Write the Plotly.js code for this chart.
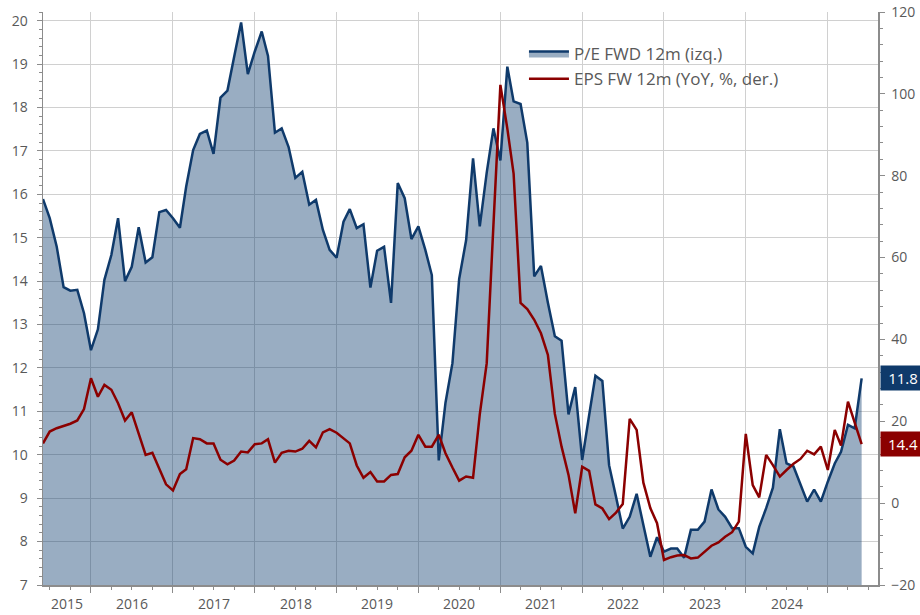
<!DOCTYPE html>
<html>
<head>
<meta charset="utf-8">
<script src="https://cdn.plot.ly/plotly-3.0.1.min.js"></script>
<style>
  html, body { margin: 0; padding: 0; background: #ffffff; }
  #chart { width: 920px; height: 615px; }
</style>
</head>
<body>
<div id="chart"></div>
<script>
// ---- Data (monthly, first observation June 2015) ----
const START_YEAR = 2015;
const START_MONTH = 6;

const PE_FWD = [
  15.89, 15.45, 14.80, 13.86, 13.78, 13.80, 13.26, 12.41, 12.89, 14.03,
  14.60, 15.45, 14.00, 14.33, 15.24, 14.43, 14.55, 15.59, 15.64, 15.45,
  15.23, 16.18, 17.02, 17.39, 17.47, 16.93, 18.23, 18.39, 19.17, 19.96,
  18.77, 19.29, 19.75, 19.19, 17.42, 17.52, 17.09, 16.38, 16.52, 15.76,
  15.87, 15.18, 14.72, 14.54, 15.37, 15.66, 15.22, 15.31, 13.85, 14.70,
  14.79, 13.50, 16.26, 15.91, 14.97, 15.26, 14.72, 14.14, 9.87, 11.20,
  12.11, 14.05, 14.94, 16.83, 15.26, 16.50, 17.52, 16.78, 18.94, 18.14,
  18.08, 17.19, 14.11, 14.35, 13.50, 12.73, 12.63, 10.93, 11.56, 9.88,
  10.91, 11.82, 11.70, 9.76, 9.03, 8.30, 8.57, 9.10, 8.38, 7.65,
  8.10, 7.77, 7.84, 7.84, 7.63, 8.27, 8.27, 8.46, 9.20, 8.74,
  8.57, 8.31, 8.31, 7.88, 7.73, 8.34, 8.77, 9.24, 10.59, 9.80,
  9.73, 9.30, 8.92, 9.20, 8.92, 9.38, 9.80, 10.07, 10.69, 10.61,
  11.76
];

const EPS_YOY = [
  14.6, 17.5, 18.3, 18.9, 19.4, 20.2, 23.0, 30.5, 26.0, 28.9,
  27.7, 24.4, 20.2, 22.2, 17.1, 11.8, 12.3, 8.5, 4.6, 3.1,
  7.1, 8.3, 15.9, 15.6, 14.6, 14.6, 10.6, 9.5, 10.4, 12.6,
  12.4, 14.4, 14.6, 15.6, 9.9, 12.3, 12.8, 12.6, 13.3, 15.2,
  13.6, 17.3, 18.1, 17.2, 15.9, 14.6, 9.2, 6.2, 7.6, 5.3,
  5.3, 6.9, 7.1, 11.2, 12.8, 16.7, 13.8, 13.8, 16.7, 12.2,
  8.7, 5.5, 6.5, 6.2, 21.7, 34.2, 68.0, 102.2, 91.5, 80.5,
  48.9, 47.4, 44.8, 41.5, 36.2, 21.8, 13.8, 6.9, -2.5, 8.9,
  7.9, -0.3, -1.3, -3.9, -2.3, -0.2, 20.6, 17.9, 5.0, -1.2,
  -4.9, -13.9, -13.2, -12.8, -12.7, -13.5, -13.3, -11.9, -10.4, -9.6,
  -8.2, -7.1, -4.5, 16.9, 4.4, 1.4, 11.8, 9.3, 6.5, 8.1,
  9.6, 10.8, 12.8, 11.9, 13.8, 8.1, 17.9, 14.1, 24.8, 19.7,
  14.4
];

const YEAR_LABELS = ['2015','2016','2017','2018','2019','2020','2021','2022','2023','2024'];
const YEAR_GRID = ['2016-01-01','2017-01-01','2018-01-01','2019-01-01','2020-01-01',
                   '2021-01-01','2022-01-01','2023-01-01','2024-01-01','2025-01-01'];
const X_RANGE = ['2015-06-01', '2025-08-13'];

const NAME_PE = 'P/E FWD 12m (izq.)';
const NAME_EPS = 'EPS FW 12m (YoY, %, der.)';

// ---- monthly date axis ----
function pad(n){ return (n < 10 ? '0' : '') + n; }
const DATES = PE_FWD.map((_, i) => {
  const m0 = START_MONTH - 1 + i;
  return (START_YEAR + Math.floor(m0 / 12)) + '-' + pad(m0 % 12 + 1) + '-01';
});

// ---- styles ----
const NAVY = '#0f3a6b';
const DARKRED = '#8b0000';
const GRAY_TXT = '#595959';
const AXIS_COL = '#8c8c8c';
const GRID_COL = '#d0d0d0';
const FONT = 'Open Sans, Noto Sans, sans-serif';

const traces = [
  {
    x: DATES, y: PE_FWD, name: NAME_PE, type: 'scatter', mode: 'lines',
    fill: 'tozeroy', fillcolor: 'rgba(0,51,102,0.40)',
    line: { color: NAVY, width: 2.5 }, yaxis: 'y', hoverinfo: 'x+y'
  },
  {
    x: DATES, y: EPS_YOY, name: NAME_EPS, type: 'scatter', mode: 'lines',
    line: { color: DARKRED, width: 2.5 }, yaxis: 'y2', hoverinfo: 'x+y'
  }
];

// year labels centred in the visible part of each year
function ms(s){ return new Date(s + 'T00:00:00Z').getTime(); }
function iso(t){ return new Date(t).toISOString().slice(0, 10); }
const annotations = YEAR_LABELS.map((lab, k) => {
  const a = Math.max(ms(lab + '-01-01'), ms(X_RANGE[0]));
  const b = Math.min(ms(YEAR_GRID[k]), ms(X_RANGE[1]));
  return {
    x: iso((a + b) / 2), xref: 'x', y: 0, yref: 'paper',
    yanchor: 'top', xanchor: 'center', yshift: -7,
    text: lab, showarrow: false,
    font: { family: FONT, size: 14, color: GRAY_TXT }
  };
});

// last-value boxes on the right
const lastPE = PE_FWD[PE_FWD.length - 1];
const lastEPS = EPS_YOY[EPS_YOY.length - 1];
annotations.push({
  x: 1, xref: 'paper', y: lastPE, yref: 'y', xanchor: 'left', yanchor: 'middle',
  xshift: 2, text: lastPE.toFixed(1), showarrow: false, bgcolor: NAVY,
  borderpad: 2, width: 40, align: 'center',
  font: { family: FONT, size: 15, color: '#ffffff' }
});
annotations.push({
  x: 1, xref: 'paper', y: lastEPS, yref: 'y2', xanchor: 'left', yanchor: 'middle',
  xshift: 2, text: lastEPS.toFixed(1), showarrow: false, bgcolor: DARKRED,
  borderpad: 2, width: 40, align: 'center',
  font: { family: FONT, size: 15, color: '#ffffff' }
});

const layout = {
  width: 920, height: 615,
  margin: { l: 43, r: 42, t: 12, b: 30 },
  paper_bgcolor: '#ffffff', plot_bgcolor: '#ffffff',
  font: { family: FONT, size: 14, color: GRAY_TXT },
  showlegend: true,
  legend: {
    x: 0.576, y: 0.958, xanchor: 'left', yanchor: 'top',
    bgcolor: 'rgba(0,0,0,0)', font: { family: FONT, size: 17, color: GRAY_TXT },
    itemwidth: 40
  },
  xaxis: {
    type: 'date', range: X_RANGE,
    tickmode: 'array', tickvals: YEAR_GRID, showticklabels: false,
    ticks: 'outside', ticklen: 6, tickcolor: AXIS_COL,
    showgrid: true, gridcolor: GRID_COL, gridwidth: 1,
    showline: true, linecolor: AXIS_COL, linewidth: 1.5,
    zeroline: false,
    minor: { dtick: 'M3', tick0: '2016-01-01', ticks: 'outside', ticklen: 3, tickcolor: AXIS_COL, showgrid: false }
  },
  yaxis: {
    range: [7, 20.2], tickmode: 'linear', tick0: 7, dtick: 1,
    ticks: 'outside', ticklen: 5, tickcolor: AXIS_COL, ticklabelstandoff: 6,
    showgrid: true, gridcolor: GRID_COL, gridwidth: 1,
    showline: true, linecolor: AXIS_COL, linewidth: 1.5, zeroline: false,
    tickfont: { family: FONT, size: 14, color: GRAY_TXT },
    minor: { dtick: 0.2, ticks: 'outside', ticklen: 3, tickcolor: AXIS_COL, showgrid: false }
  },
  yaxis2: {
    overlaying: 'y', side: 'right', range: [-20, 120], tickmode: 'linear', tick0: -20, dtick: 20,
    ticks: 'outside', ticklen: 5, tickcolor: AXIS_COL, ticklabelstandoff: 4,
    showgrid: false, showline: true, linecolor: AXIS_COL, linewidth: 1.5, zeroline: false,
    tickfont: { family: FONT, size: 14, color: GRAY_TXT },
    minor: { dtick: 4, ticks: 'outside', ticklen: 3, tickcolor: AXIS_COL, showgrid: false }
  },
  annotations: annotations
};

Plotly.newPlot('chart', traces, layout, { displayModeBar: false, staticPlot: true });
</script>
</body>
</html>
